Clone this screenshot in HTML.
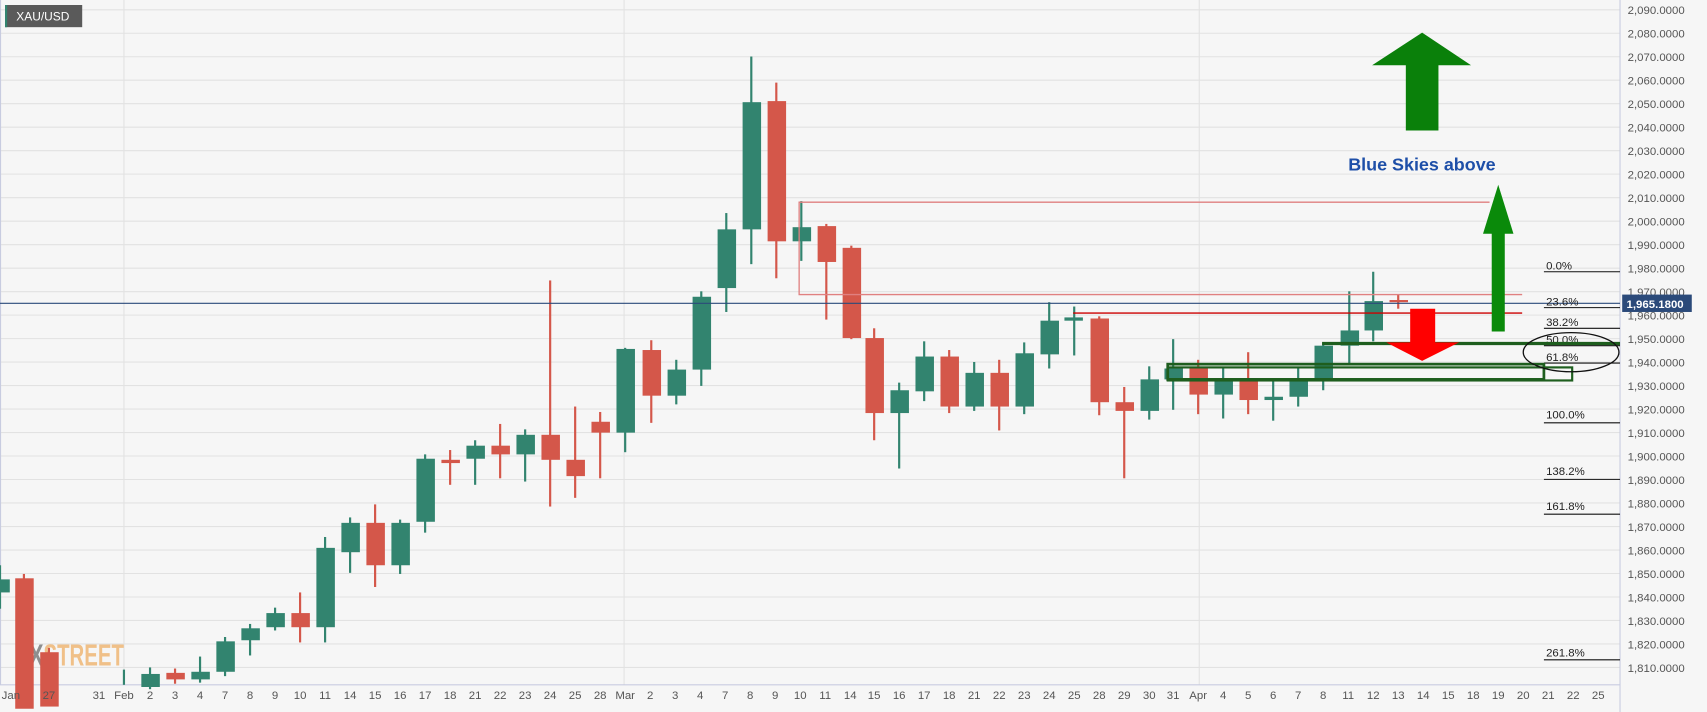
<!DOCTYPE html>
<html><head><meta charset="utf-8"><style>
html,body{margin:0;padding:0;background:#f6f6f6;overflow:hidden}
svg{display:block}
text{font-family:"Liberation Sans",sans-serif}
</style></head><body>
<svg width="1707" height="712" viewBox="0 0 1570 655" preserveAspectRatio="none" xmlns="http://www.w3.org/2000/svg">
<rect x="0" y="0" width="1570" height="655" fill="#f6f6f6"/>
<g stroke="#e2e2e2" stroke-width="1">
<line x1="0" y1="9" x2="1490" y2="9"/><line x1="0" y1="30.6" x2="1490" y2="30.6"/><line x1="0" y1="52.2" x2="1490" y2="52.2"/><line x1="0" y1="73.8" x2="1490" y2="73.8"/><line x1="0" y1="95.4" x2="1490" y2="95.4"/><line x1="0" y1="117" x2="1490" y2="117"/><line x1="0" y1="138.6" x2="1490" y2="138.6"/><line x1="0" y1="160.2" x2="1490" y2="160.2"/><line x1="0" y1="181.9" x2="1490" y2="181.9"/><line x1="0" y1="203.5" x2="1490" y2="203.5"/><line x1="0" y1="225.1" x2="1490" y2="225.1"/><line x1="0" y1="246.7" x2="1490" y2="246.7"/><line x1="0" y1="268.3" x2="1490" y2="268.3"/><line x1="0" y1="289.9" x2="1490" y2="289.9"/><line x1="0" y1="311.5" x2="1490" y2="311.5"/><line x1="0" y1="333.1" x2="1490" y2="333.1"/><line x1="0" y1="354.7" x2="1490" y2="354.7"/><line x1="0" y1="376.3" x2="1490" y2="376.3"/><line x1="0" y1="397.9" x2="1490" y2="397.9"/><line x1="0" y1="419.5" x2="1490" y2="419.5"/><line x1="0" y1="441.1" x2="1490" y2="441.1"/><line x1="0" y1="462.7" x2="1490" y2="462.7"/><line x1="0" y1="484.4" x2="1490" y2="484.4"/><line x1="0" y1="506" x2="1490" y2="506"/><line x1="0" y1="527.6" x2="1490" y2="527.6"/><line x1="0" y1="549.2" x2="1490" y2="549.2"/><line x1="0" y1="570.8" x2="1490" y2="570.8"/><line x1="0" y1="592.4" x2="1490" y2="592.4"/><line x1="0" y1="614" x2="1490" y2="614"/>
<line x1="114" y1="0" x2="114" y2="630"/><line x1="574" y1="0" x2="574" y2="630"/><line x1="1103" y1="0" x2="1103" y2="630"/>
</g>
<line x1="0.5" y1="0" x2="0.5" y2="630" stroke="#c8cce0"/>
<line x1="0" y1="630" x2="1490" y2="630" stroke="#c8cce0"/>
<line x1="1490" y1="0" x2="1490" y2="655" stroke="#c8cce0"/>
<text x="14" y="612" font-size="28" font-weight="bold" fill="#8e8e8e" textLength="26" lengthAdjust="spacingAndGlyphs">FX</text>
<text x="40" y="612" font-size="28" font-weight="bold" fill="#f0c088" textLength="74" lengthAdjust="spacingAndGlyphs">STREET</text>
<g id="c">
<g fill="#32846f"><rect x="-1" y="520" width="2" height="40"/><rect x="-8" y="533" width="17" height="12"/></g>
<g fill="#d4574a"><rect x="21" y="528" width="2" height="120"/><rect x="14" y="532" width="17" height="120"/></g>
<g fill="#d4574a"><rect x="44" y="596" width="2" height="50"/><rect x="37" y="600" width="17" height="50"/></g>
<g fill="#32846f"><rect x="113" y="616" width="2" height="14"/></g>
<g fill="#32846f"><rect x="137" y="614" width="2" height="20"/><rect x="130" y="620" width="17" height="12"/></g>
<g fill="#d4574a"><rect x="160" y="615" width="2" height="14"/><rect x="153" y="619" width="17" height="6"/></g>
<g fill="#32846f"><rect x="183" y="604" width="2" height="24"/><rect x="176" y="618" width="17" height="7"/></g>
<g fill="#32846f"><rect x="206" y="586" width="2" height="36"/><rect x="199" y="590" width="17" height="28"/></g>
<g fill="#32846f"><rect x="229" y="574" width="2" height="29"/><rect x="222" y="578" width="17" height="11"/></g>
<g fill="#32846f"><rect x="252" y="559" width="2" height="21"/><rect x="245" y="564" width="17" height="13"/></g>
<g fill="#d4574a"><rect x="275" y="545" width="2" height="46"/><rect x="268" y="564" width="17" height="13"/></g>
<g fill="#32846f"><rect x="298" y="494" width="2" height="97"/><rect x="291" y="504" width="17" height="73"/></g>
<g fill="#32846f"><rect x="321" y="476" width="2" height="51"/><rect x="314" y="481" width="17" height="27"/></g>
<g fill="#d4574a"><rect x="344" y="464" width="2" height="76"/><rect x="337" y="481" width="17" height="39"/></g>
<g fill="#32846f"><rect x="367" y="478" width="2" height="50"/><rect x="360" y="481" width="17" height="39"/></g>
<g fill="#32846f"><rect x="390" y="418" width="2" height="72"/><rect x="383" y="422" width="17" height="58"/></g>
<g fill="#d4574a"><rect x="413" y="414" width="2" height="32"/><rect x="406" y="423" width="17" height="3"/></g>
<g fill="#32846f"><rect x="436" y="405" width="2" height="41"/><rect x="429" y="410" width="17" height="12"/></g>
<g fill="#d4574a"><rect x="459" y="390" width="2" height="50"/><rect x="452" y="410" width="17" height="8"/></g>
<g fill="#32846f"><rect x="482" y="395" width="2" height="48"/><rect x="475" y="400" width="17" height="18"/></g>
<g fill="#d4574a"><rect x="505" y="258" width="2" height="208"/><rect x="498" y="400" width="17" height="23"/></g>
<g fill="#d4574a"><rect x="528" y="374" width="2" height="84"/><rect x="521" y="423" width="17" height="15"/></g>
<g fill="#d4574a"><rect x="551" y="379" width="2" height="61"/><rect x="544" y="388" width="17" height="10"/></g>
<g fill="#32846f"><rect x="574" y="320" width="2" height="96"/><rect x="567" y="321" width="17" height="77"/></g>
<g fill="#d4574a"><rect x="598" y="313" width="2" height="76"/><rect x="591" y="322" width="17" height="42"/></g>
<g fill="#32846f"><rect x="621" y="331" width="2" height="41"/><rect x="614" y="340" width="17" height="24"/></g>
<g fill="#32846f"><rect x="644" y="268" width="2" height="87"/><rect x="637" y="273" width="17" height="67"/></g>
<g fill="#32846f"><rect x="667" y="196" width="2" height="91"/><rect x="660" y="211" width="17" height="54"/></g>
<g fill="#32846f"><rect x="690" y="52" width="2" height="191"/><rect x="683" y="94" width="17" height="117"/></g>
<g fill="#d4574a"><rect x="713" y="76" width="2" height="180"/><rect x="706" y="93" width="17" height="129"/></g>
<g fill="#32846f"><rect x="736" y="185" width="2" height="55"/><rect x="729" y="209" width="17" height="13"/></g>
<g fill="#d4574a"><rect x="759" y="206" width="2" height="88"/><rect x="752" y="208" width="17" height="33"/></g>
<g fill="#d4574a"><rect x="782" y="226" width="2" height="86"/><rect x="775" y="228" width="17" height="83"/></g>
<g fill="#d4574a"><rect x="803" y="302" width="2" height="103"/><rect x="796" y="311" width="17" height="69"/></g>
<g fill="#32846f"><rect x="826" y="352" width="2" height="79"/><rect x="819" y="359" width="17" height="21"/></g>
<g fill="#32846f"><rect x="849" y="314" width="2" height="55"/><rect x="842" y="328" width="17" height="32"/></g>
<g fill="#d4574a"><rect x="872" y="322" width="2" height="58"/><rect x="865" y="328" width="17" height="46"/></g>
<g fill="#32846f"><rect x="895" y="333" width="2" height="45"/><rect x="888" y="343" width="17" height="31"/></g>
<g fill="#d4574a"><rect x="918" y="331" width="2" height="65"/><rect x="911" y="343" width="17" height="31"/></g>
<g fill="#32846f"><rect x="941" y="315" width="2" height="66"/><rect x="934" y="325" width="17" height="49"/></g>
<g fill="#32846f"><rect x="964" y="278" width="2" height="61"/><rect x="957" y="295" width="17" height="31"/></g>
<g fill="#32846f"><rect x="987" y="282" width="2" height="45"/><rect x="979" y="292" width="17" height="3"/></g>
<g fill="#d4574a"><rect x="1010" y="291" width="2" height="91"/><rect x="1003" y="293" width="17" height="77"/></g>
<g fill="#d4574a"><rect x="1033" y="356" width="2" height="84"/><rect x="1026" y="370" width="17" height="8"/></g>
<g fill="#32846f"><rect x="1056" y="337" width="2" height="49"/><rect x="1049" y="349" width="17" height="29"/></g>
<g fill="#32846f"><rect x="1078" y="312" width="2" height="65"/><rect x="1071" y="339" width="17" height="10"/></g>
<g fill="#d4574a"><rect x="1101" y="331" width="2" height="50"/><rect x="1094" y="339" width="17" height="24"/></g>
<g fill="#32846f"><rect x="1124" y="338" width="2" height="47"/><rect x="1117" y="348" width="17" height="15"/></g>
<g fill="#d4574a"><rect x="1147" y="324" width="2" height="57"/><rect x="1140" y="348" width="17" height="20"/></g>
<g fill="#32846f"><rect x="1170" y="349" width="2" height="38"/><rect x="1163" y="365" width="17" height="3"/></g>
<g fill="#32846f"><rect x="1193" y="339" width="2" height="35"/><rect x="1186" y="350" width="17" height="15"/></g>
<g fill="#32846f"><rect x="1216" y="315" width="2" height="44"/><rect x="1209" y="318" width="17" height="32"/></g>
<g fill="#32846f"><rect x="1240" y="268" width="2" height="66"/><rect x="1233" y="304" width="17" height="14"/></g>
<g fill="#32846f"><rect x="1262" y="250" width="2" height="64"/><rect x="1255" y="277" width="17" height="27"/></g>
<g fill="#d4574a"><rect x="1285" y="271" width="2" height="13"/><rect x="1278" y="276" width="17" height="2"/></g>
</g>
<g stroke="#d44" stroke-width="1.2" fill="none">
<polyline points="1370,186 735,186 735,271 1400,271" stroke="#e08080"/>
<line x1="987" y1="288" x2="1400" y2="288" stroke="#c00"/>
</g>
<line x1="0" y1="279" x2="1490" y2="279" stroke="#2b4a7a" stroke-width="1"/>
<g stroke="#111" stroke-width="1">
<line x1="1420" y1="250" x2="1490" y2="250"/><line x1="1420" y1="283" x2="1490" y2="283"/><line x1="1420" y1="302" x2="1490" y2="302"/><line x1="1420" y1="318" x2="1490" y2="318"/><line x1="1420" y1="334" x2="1490" y2="334"/><line x1="1420" y1="389" x2="1490" y2="389"/><line x1="1420" y1="441" x2="1490" y2="441"/><line x1="1420" y1="473" x2="1490" y2="473"/><line x1="1420" y1="607" x2="1490" y2="607"/>
</g>
<g font-size="10.5" fill="#222">
<text x="1422" y="248">0.0%</text><text x="1422" y="281">23.6%</text><text x="1422" y="300">38.2%</text><text x="1422" y="316">50.0%</text><text x="1422" y="332">61.8%</text><text x="1422" y="385">100.0%</text><text x="1422" y="437">138.2%</text><text x="1422" y="469">161.8%</text><text x="1422" y="604">261.8%</text>
</g>
<g fill="none" stroke="#1e5e1e" stroke-width="2.5">
<line x1="1216" y1="316" x2="1490" y2="316" stroke-width="3"/>
<rect x="1074" y="335" width="346" height="14"/>
<rect x="1074" y="338" width="372" height="12" stroke-width="2"/>
</g>
<ellipse cx="1445" cy="324" rx="44" ry="18" fill="none" stroke="#111" stroke-width="1.2"/>
<polygon points="1297,284 1320,284 1320,315 1342,315 1308,332 1275,315 1297,315" fill="#f00"/>
<polygon points="1372,305 1384,305 1384,215 1392,215 1378,170 1364,215 1372,215" fill="#0a8a0a"/>
<polygon points="1293,120 1323,120 1323,60 1353,60 1308,30 1262,60 1293,60" fill="#0a800a"/>
<text x="1240" y="157" font-size="16.5" font-weight="bold" fill="#1e4fa8">Blue Skies above</text>
<rect x="4.6" y="4.6" width="71" height="20.4" fill="#5a5a5a"/>
<rect x="4.6" y="4.6" width="2" height="20.4" fill="#32846f"/>
<text x="15" y="19" font-size="11" fill="#fff">XAU/USD</text>
<g font-size="10.5" fill="#555">
<text x="1497" y="13">2,090.0000</text><text x="1497" y="34.6">2,080.0000</text><text x="1497" y="56.2">2,070.0000</text><text x="1497" y="77.8">2,060.0000</text><text x="1497" y="99.4">2,050.0000</text><text x="1497" y="121">2,040.0000</text><text x="1497" y="142.6">2,030.0000</text><text x="1497" y="164.2">2,020.0000</text><text x="1497" y="185.9">2,010.0000</text><text x="1497" y="207.5">2,000.0000</text><text x="1497" y="229.1">1,990.0000</text><text x="1497" y="250.7">1,980.0000</text><text x="1497" y="272.3">1,970.0000</text><text x="1497" y="293.9">1,960.0000</text><text x="1497" y="315.5">1,950.0000</text><text x="1497" y="337.1">1,940.0000</text><text x="1497" y="358.7">1,930.0000</text><text x="1497" y="380.3">1,920.0000</text><text x="1497" y="401.9">1,910.0000</text><text x="1497" y="423.5">1,900.0000</text><text x="1497" y="445.1">1,890.0000</text><text x="1497" y="466.7">1,880.0000</text><text x="1497" y="488.4">1,870.0000</text><text x="1497" y="510">1,860.0000</text><text x="1497" y="531.6">1,850.0000</text><text x="1497" y="553.2">1,840.0000</text><text x="1497" y="574.8">1,830.0000</text><text x="1497" y="596.4">1,820.0000</text><text x="1497" y="618">1,810.0000</text>
</g>
<rect x="1492" y="271" width="64" height="16" fill="#2b4a7a"/>
<text x="1496" y="283.5" font-size="10.5" font-weight="bold" fill="#fff">1,965.1800</text>
<g font-size="10.5" fill="#555" text-anchor="middle">
<text x="10" y="643">Jan</text><text x="45" y="643">27</text><text x="91" y="643">31</text><text x="114" y="643">Feb</text><text x="138" y="643">2</text><text x="161" y="643">3</text><text x="184" y="643">4</text><text x="207" y="643">7</text><text x="230" y="643">8</text><text x="253" y="643">9</text><text x="276" y="643">10</text><text x="299" y="643">11</text><text x="322" y="643">14</text><text x="345" y="643">15</text><text x="368" y="643">16</text><text x="391" y="643">17</text><text x="414" y="643">18</text><text x="437" y="643">21</text><text x="460" y="643">22</text><text x="483" y="643">23</text><text x="506" y="643">24</text><text x="529" y="643">25</text><text x="552" y="643">28</text><text x="575" y="643">Mar</text><text x="598" y="643">2</text><text x="621" y="643">3</text><text x="644" y="643">4</text><text x="667" y="643">7</text><text x="690" y="643">8</text><text x="713" y="643">9</text><text x="736" y="643">10</text><text x="759" y="643">11</text><text x="782" y="643">14</text><text x="804" y="643">15</text><text x="827" y="643">16</text><text x="850" y="643">17</text><text x="873" y="643">18</text><text x="896" y="643">21</text><text x="919" y="643">22</text><text x="942" y="643">23</text><text x="965" y="643">24</text><text x="988" y="643">25</text><text x="1011" y="643">28</text><text x="1034" y="643">29</text><text x="1057" y="643">30</text><text x="1079" y="643">31</text><text x="1102" y="643">Apr</text><text x="1125" y="643">4</text><text x="1148" y="643">5</text><text x="1171" y="643">6</text><text x="1194" y="643">7</text><text x="1217" y="643">8</text><text x="1240" y="643">11</text><text x="1263" y="643">12</text><text x="1286" y="643">13</text><text x="1309" y="643">14</text><text x="1332" y="643">15</text><text x="1355" y="643">18</text><text x="1378" y="643">19</text><text x="1401" y="643">20</text><text x="1424" y="643">21</text><text x="1447" y="643">22</text><text x="1470" y="643">25</text>
</g>
</svg>
</body></html>
